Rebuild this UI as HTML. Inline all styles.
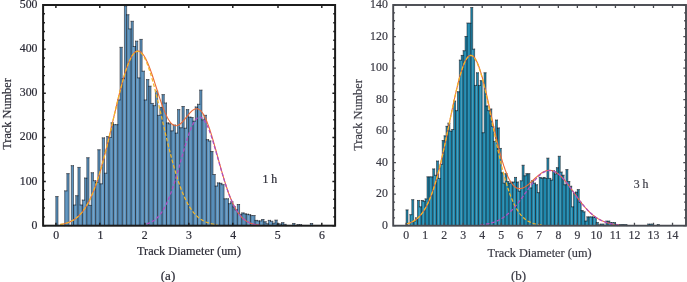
<!DOCTYPE html>
<html><head><meta charset="utf-8"><title>Track diameter histograms</title>
<style>
html,body{margin:0;padding:0;background:#fff;}
body{width:687px;height:282px;overflow:hidden;}
svg{display:block;font-family:"Liberation Serif",serif;}
</style></head><body>
<svg width="687" height="282" viewBox="0 0 687 282">
<rect width="687" height="282" fill="#ffffff"/>
<g id="plot-a">
<g fill="#5c94c0" stroke="none">
<rect x="55.8" y="196.57" width="2.21" height="29.13"/>
<rect x="64.66" y="190.83" width="2.21" height="34.87"/>
<rect x="66.87" y="173.61" width="2.21" height="52.09"/>
<rect x="71.3" y="165.67" width="2.21" height="60.03"/>
<rect x="73.51" y="204.95" width="2.21" height="20.75"/>
<rect x="75.73" y="195.68" width="2.21" height="30.02"/>
<rect x="77.94" y="167.44" width="2.21" height="58.26"/>
<rect x="80.15" y="204.95" width="2.21" height="20.75"/>
<rect x="82.37" y="200.1" width="2.21" height="25.6"/>
<rect x="84.58" y="178.03" width="2.21" height="47.67"/>
<rect x="86.8" y="157.72" width="2.21" height="67.98"/>
<rect x="89.01" y="205.4" width="2.21" height="20.3"/>
<rect x="91.22" y="172.73" width="2.21" height="52.97"/>
<rect x="93.44" y="180.68" width="2.21" height="45.02"/>
<rect x="95.65" y="182.44" width="2.21" height="43.26"/>
<rect x="97.87" y="149.78" width="2.21" height="75.92"/>
<rect x="100.08" y="183.77" width="2.21" height="41.93"/>
<rect x="102.29" y="137.86" width="2.21" height="87.84"/>
<rect x="104.51" y="173.17" width="2.21" height="52.53"/>
<rect x="106.72" y="136.54" width="2.21" height="89.16"/>
<rect x="108.94" y="137.42" width="2.21" height="88.28"/>
<rect x="111.15" y="122.85" width="2.21" height="102.85"/>
<rect x="113.36" y="124.62" width="2.21" height="101.08"/>
<rect x="115.58" y="124.62" width="2.21" height="101.08"/>
<rect x="117.79" y="99.9" width="2.21" height="125.8"/>
<rect x="120.01" y="47.37" width="2.21" height="178.33"/>
<rect x="122.22" y="78.71" width="2.21" height="146.99"/>
<rect x="124.43" y="5.88" width="2.21" height="219.82"/>
<rect x="126.65" y="14.71" width="2.21" height="210.99"/>
<rect x="128.86" y="28.84" width="2.21" height="196.86"/>
<rect x="131.08" y="21.33" width="2.21" height="204.37"/>
<rect x="133.29" y="46.49" width="2.21" height="179.21"/>
<rect x="135.5" y="41.19" width="2.21" height="184.51"/>
<rect x="137.72" y="77.83" width="2.21" height="147.87"/>
<rect x="139.93" y="39.43" width="2.21" height="186.27"/>
<rect x="142.15" y="71.21" width="2.21" height="154.49"/>
<rect x="144.36" y="99.9" width="2.21" height="125.8"/>
<rect x="146.57" y="79.6" width="2.21" height="146.1"/>
<rect x="148.79" y="86.22" width="2.21" height="139.48"/>
<rect x="151" y="103.43" width="2.21" height="122.27"/>
<rect x="153.22" y="105.64" width="2.21" height="120.06"/>
<rect x="155.43" y="91.07" width="2.21" height="134.63"/>
<rect x="157.64" y="115.35" width="2.21" height="110.35"/>
<rect x="159.86" y="107.4" width="2.21" height="118.3"/>
<rect x="162.07" y="94.6" width="2.21" height="131.1"/>
<rect x="164.29" y="102.99" width="2.21" height="122.71"/>
<rect x="166.5" y="122.85" width="2.21" height="102.85"/>
<rect x="168.71" y="123.74" width="2.21" height="101.96"/>
<rect x="170.93" y="130.8" width="2.21" height="94.9"/>
<rect x="173.14" y="125.06" width="2.21" height="100.64"/>
<rect x="175.36" y="133.01" width="2.21" height="92.69"/>
<rect x="177.57" y="109.61" width="2.21" height="116.09"/>
<rect x="179.78" y="127.71" width="2.21" height="97.99"/>
<rect x="182" y="106.52" width="2.21" height="119.18"/>
<rect x="184.21" y="128.15" width="2.21" height="97.55"/>
<rect x="186.43" y="109.61" width="2.21" height="116.09"/>
<rect x="188.64" y="117.12" width="2.21" height="108.58"/>
<rect x="190.85" y="117.56" width="2.21" height="108.14"/>
<rect x="193.07" y="121.09" width="2.21" height="104.61"/>
<rect x="195.28" y="106.96" width="2.21" height="118.74"/>
<rect x="197.5" y="104.31" width="2.21" height="121.39"/>
<rect x="199.71" y="90.19" width="2.21" height="135.51"/>
<rect x="201.92" y="119.76" width="2.21" height="105.94"/>
<rect x="204.14" y="115.35" width="2.21" height="110.35"/>
<rect x="206.35" y="139.63" width="2.21" height="86.07"/>
<rect x="208.57" y="140.95" width="2.21" height="84.75"/>
<rect x="210.78" y="151.54" width="2.21" height="74.16"/>
<rect x="212.99" y="174.5" width="2.21" height="51.2"/>
<rect x="215.21" y="185.97" width="2.21" height="39.73"/>
<rect x="217.42" y="182.88" width="2.21" height="42.82"/>
<rect x="219.64" y="183.33" width="2.21" height="42.37"/>
<rect x="221.85" y="184.65" width="2.21" height="41.05"/>
<rect x="224.06" y="198.77" width="2.21" height="26.93"/>
<rect x="226.28" y="198.77" width="2.21" height="26.93"/>
<rect x="228.49" y="203.63" width="2.21" height="22.07"/>
<rect x="230.71" y="201.86" width="2.21" height="23.84"/>
<rect x="232.92" y="206.72" width="2.21" height="18.98"/>
<rect x="235.13" y="209.81" width="2.21" height="15.89"/>
<rect x="237.35" y="204.51" width="2.21" height="21.19"/>
<rect x="239.56" y="214.22" width="2.21" height="11.48"/>
<rect x="241.78" y="212.9" width="2.21" height="12.8"/>
<rect x="243.99" y="213.78" width="2.21" height="11.92"/>
<rect x="246.2" y="214.22" width="2.21" height="11.48"/>
<rect x="248.42" y="214.66" width="2.21" height="11.03"/>
<rect x="250.63" y="215.55" width="2.21" height="10.15"/>
<rect x="252.85" y="215.55" width="2.21" height="10.15"/>
<rect x="255.06" y="220.4" width="2.21" height="5.3"/>
<rect x="257.27" y="220.84" width="2.21" height="4.86"/>
<rect x="259.49" y="220.84" width="2.21" height="4.86"/>
<rect x="261.7" y="219.52" width="2.21" height="6.18"/>
<rect x="263.92" y="221.73" width="2.21" height="3.97"/>
<rect x="266.13" y="223.71" width="2.21" height="1.99"/>
<rect x="268.34" y="220.4" width="2.21" height="5.3"/>
<rect x="270.56" y="221.29" width="2.21" height="4.41"/>
<rect x="272.77" y="223.05" width="2.21" height="2.65"/>
<rect x="274.99" y="220.18" width="2.21" height="5.52"/>
<rect x="277.2" y="223.93" width="2.21" height="1.77"/>
<rect x="279.41" y="223.93" width="2.21" height="1.77"/>
<rect x="281.63" y="222.61" width="2.21" height="3.09"/>
<rect x="283.84" y="224.38" width="2.21" height="1.32"/>
<rect x="292.7" y="223.49" width="2.21" height="2.21"/>
<rect x="297.13" y="224.6" width="2.21" height="1.1"/>
<rect x="299.34" y="224.6" width="2.21" height="1.1"/>
<rect x="310.41" y="223.49" width="2.21" height="2.21"/>
</g>
<g fill="none" stroke="#0b0b10">
<path d="M73.51,225.7V204.95 M77.94,225.7V195.68 M82.37,225.7V204.95 M86.8,225.7V178.03 M91.22,225.7V205.4 M95.65,225.7V182.44 M100.08,225.7V183.77 M104.51,225.7V173.17 M108.94,225.7V137.42 M113.36,225.7V124.62 M117.79,225.7V124.62 M122.22,225.7V78.71 M126.65,225.7V14.71 M131.08,225.7V28.84 M135.5,225.7V46.49 M139.93,225.7V77.83 M144.36,225.7V99.9 M148.79,225.7V86.22 M153.22,225.7V105.64 M157.64,225.7V115.35 M162.07,225.7V107.4 M166.5,225.7V122.85 M170.93,225.7V130.8 M175.36,225.7V133.01 M179.78,225.7V127.71 M184.21,225.7V128.15 M188.64,225.7V117.12 M193.07,225.7V121.09 M197.5,225.7V106.96 M201.92,225.7V119.76 M206.35,225.7V139.63 M210.78,225.7V151.54 M215.21,225.7V185.97 M219.64,225.7V183.33 M224.06,225.7V198.77 M228.49,225.7V203.63 M232.92,225.7V206.72 M237.35,225.7V209.81 M241.78,225.7V214.22 M246.2,225.7V214.22 M250.63,225.7V215.55 M255.06,225.7V220.4 M259.49,225.7V220.84 M263.92,225.7V221.73 M268.34,225.7V223.71 M272.77,225.7V223.05 M277.2,225.7V223.93 M281.63,225.7V223.93 M299.34,225.7V224.6" stroke-width="0.75" stroke-opacity="0.9"/>
<path d="M66.87,225.7V190.83 M75.73,225.7V204.95 M80.15,225.7V204.95 M84.58,225.7V200.1 M89.01,225.7V205.4 M93.44,225.7V180.68 M97.87,225.7V182.44 M102.29,225.7V183.77 M106.72,225.7V173.17 M111.15,225.7V137.42 M115.58,225.7V124.62 M120.01,225.7V99.9 M124.43,225.7V78.71 M128.86,225.7V28.84 M133.29,225.7V46.49 M137.72,225.7V77.83 M142.15,225.7V71.21 M146.57,225.7V99.9 M151,225.7V103.43 M155.43,225.7V105.64 M159.86,225.7V115.35 M164.29,225.7V102.99 M168.71,225.7V123.74 M173.14,225.7V130.8 M177.57,225.7V133.01 M182,225.7V127.71 M186.43,225.7V128.15 M190.85,225.7V117.56 M195.28,225.7V121.09 M199.71,225.7V104.31 M204.14,225.7V119.76 M208.57,225.7V140.95 M212.99,225.7V174.5 M217.42,225.7V185.97 M221.85,225.7V184.65 M226.28,225.7V198.77 M230.71,225.7V203.63 M235.13,225.7V209.81 M239.56,225.7V214.22 M243.99,225.7V213.78 M248.42,225.7V214.66 M252.85,225.7V215.55 M257.27,225.7V220.84 M261.7,225.7V220.84 M266.13,225.7V223.71 M270.56,225.7V221.29 M274.99,225.7V223.05 M279.41,225.7V223.93 M283.84,225.7V224.38" stroke-width="0.15" stroke-opacity="0.5"/>
<path d="M55.8,225.7V196.57 M55.8,196.57h2.21 M58.01,225.7V196.57 M64.66,225.7V190.83 M64.66,190.83h2.21 M66.87,190.83V173.61 M66.87,173.61h2.21 M69.08,225.7V173.61 M71.3,225.7V165.67 M71.3,165.67h2.21 M73.51,204.95V165.67 M73.51,204.95h2.21 M75.73,204.95V195.68 M75.73,195.68h2.21 M77.94,195.68V167.44 M77.94,167.44h2.21 M80.15,204.95V167.44 M80.15,204.95h2.21 M82.37,204.95V200.1 M82.37,200.1h2.21 M84.58,200.1V178.03 M84.58,178.03h2.21 M86.8,178.03V157.72 M86.8,157.72h2.21 M89.01,205.4V157.72 M89.01,205.4h2.21 M91.22,205.4V172.73 M91.22,172.73h2.21 M93.44,180.68V172.73 M93.44,180.68h2.21 M95.65,182.44V180.68 M95.65,182.44h2.21 M97.87,182.44V149.78 M97.87,149.78h2.21 M100.08,183.77V149.78 M100.08,183.77h2.21 M102.29,183.77V137.86 M102.29,137.86h2.21 M104.51,173.17V137.86 M104.51,173.17h2.21 M106.72,173.17V136.54 M106.72,136.54h2.21 M108.94,137.42V136.54 M108.94,137.42h2.21 M111.15,137.42V122.85 M111.15,122.85h2.21 M113.36,124.62V122.85 M113.36,124.62h2.21 M115.58,124.62h2.21 M117.79,124.62V99.9 M117.79,99.9h2.21 M120.01,99.9V47.37 M120.01,47.37h2.21 M122.22,78.71V47.37 M122.22,78.71h2.21 M124.43,78.71V5.88 M124.43,5.88h2.21 M126.65,14.71V5.88 M126.65,14.71h2.21 M128.86,28.84V14.71 M128.86,28.84h2.21 M131.08,28.84V21.33 M131.08,21.33h2.21 M133.29,46.49V21.33 M133.29,46.49h2.21 M135.5,46.49V41.19 M135.5,41.19h2.21 M137.72,77.83V41.19 M137.72,77.83h2.21 M139.93,77.83V39.43 M139.93,39.43h2.21 M142.15,71.21V39.43 M142.15,71.21h2.21 M144.36,99.9V71.21 M144.36,99.9h2.21 M146.57,99.9V79.6 M146.57,79.6h2.21 M148.79,86.22V79.6 M148.79,86.22h2.21 M151,103.43V86.22 M151,103.43h2.21 M153.22,105.64V103.43 M153.22,105.64h2.21 M155.43,105.64V91.07 M155.43,91.07h2.21 M157.64,115.35V91.07 M157.64,115.35h2.21 M159.86,115.35V107.4 M159.86,107.4h2.21 M162.07,107.4V94.6 M162.07,94.6h2.21 M164.29,102.99V94.6 M164.29,102.99h2.21 M166.5,122.85V102.99 M166.5,122.85h2.21 M168.71,123.74V122.85 M168.71,123.74h2.21 M170.93,130.8V123.74 M170.93,130.8h2.21 M173.14,130.8V125.06 M173.14,125.06h2.21 M175.36,133.01V125.06 M175.36,133.01h2.21 M177.57,133.01V109.61 M177.57,109.61h2.21 M179.78,127.71V109.61 M179.78,127.71h2.21 M182,127.71V106.52 M182,106.52h2.21 M184.21,128.15V106.52 M184.21,128.15h2.21 M186.43,128.15V109.61 M186.43,109.61h2.21 M188.64,117.12V109.61 M188.64,117.12h2.21 M190.85,117.56V117.12 M190.85,117.56h2.21 M193.07,121.09V117.56 M193.07,121.09h2.21 M195.28,121.09V106.96 M195.28,106.96h2.21 M197.5,106.96V104.31 M197.5,104.31h2.21 M199.71,104.31V90.19 M199.71,90.19h2.21 M201.92,119.76V90.19 M201.92,119.76h2.21 M204.14,119.76V115.35 M204.14,115.35h2.21 M206.35,139.63V115.35 M206.35,139.63h2.21 M208.57,140.95V139.63 M208.57,140.95h2.21 M210.78,151.54V140.95 M210.78,151.54h2.21 M212.99,174.5V151.54 M212.99,174.5h2.21 M215.21,185.97V174.5 M215.21,185.97h2.21 M217.42,185.97V182.88 M217.42,182.88h2.21 M219.64,183.33V182.88 M219.64,183.33h2.21 M221.85,184.65V183.33 M221.85,184.65h2.21 M224.06,198.77V184.65 M224.06,198.77h2.21 M226.28,198.77h2.21 M228.49,203.63V198.77 M228.49,203.63h2.21 M230.71,203.63V201.86 M230.71,201.86h2.21 M232.92,206.72V201.86 M232.92,206.72h2.21 M235.13,209.81V206.72 M235.13,209.81h2.21 M237.35,209.81V204.51 M237.35,204.51h2.21 M239.56,214.22V204.51 M239.56,214.22h2.21 M241.78,214.22V212.9 M241.78,212.9h2.21 M243.99,213.78V212.9 M243.99,213.78h2.21 M246.2,214.22V213.78 M246.2,214.22h2.21 M248.42,214.66V214.22 M248.42,214.66h2.21 M250.63,215.55V214.66 M250.63,215.55h2.21 M252.85,215.55h2.21 M255.06,220.4V215.55 M255.06,220.4h2.21 M257.27,220.84V220.4 M257.27,220.84h2.21 M259.49,220.84h2.21 M261.7,220.84V219.52 M261.7,219.52h2.21 M263.92,221.73V219.52 M263.92,221.73h2.21 M266.13,223.71V221.73 M266.13,223.71h2.21 M268.34,223.71V220.4 M268.34,220.4h2.21 M270.56,221.29V220.4 M270.56,221.29h2.21 M272.77,223.05V221.29 M272.77,223.05h2.21 M274.99,223.05V220.18 M274.99,220.18h2.21 M277.2,223.93V220.18 M277.2,223.93h2.21 M279.41,223.93h2.21 M281.63,223.93V222.61 M281.63,222.61h2.21 M283.84,224.38V222.61 M283.84,224.38h2.21 M286.06,225.7V224.38 M292.7,225.7V223.49 M292.7,223.49h2.21 M294.91,225.7V223.49 M297.13,225.7V224.6 M297.13,224.6h2.21 M299.34,224.6h2.21 M301.55,225.7V224.6 M310.41,225.7V223.49 M310.41,223.49h2.21 M312.62,225.7V223.49" stroke-width="0.55" stroke-opacity="0.9" stroke-linecap="square"/>
</g>
<g fill="none" stroke-linecap="butt" stroke-linejoin="round">
<path d="M60.23,224.49 L61.47,224.28 L62.72,224.04 L63.96,223.77 L65.21,223.46 L66.45,223.1 L67.7,222.69 L68.95,222.23 L70.19,221.7 L71.44,221.11 L72.68,220.44 L73.93,219.7 L75.17,218.86 L76.42,217.93 L77.66,216.9 L78.91,215.75 L80.15,214.48 L81.4,213.08 L82.64,211.55 L83.89,209.86 L85.14,208.03 L86.38,206.03 L87.63,203.86 L88.87,201.51 L90.12,198.99 L91.36,196.27 L92.61,193.36 L93.85,190.25 L95.1,186.94 L96.34,183.44 L97.59,179.73 L98.83,175.83 L100.08,171.74 L101.33,167.46 L102.57,163 L103.82,158.37 L105.06,153.59 L106.31,148.67 L107.55,143.62 L108.8,138.46 L110.04,133.22 L111.29,127.91 L112.53,122.57 L113.78,117.21 L115.02,111.86 L116.27,106.56 L117.52,101.33 L118.76,96.21 L120.01,91.22 L121.25,86.39 L122.5,81.76 L123.74,77.35 L124.99,73.2 L126.23,69.34 L127.48,65.79 L128.72,62.57 L129.97,59.71 L131.21,57.22 L132.46,55.14 L133.71,53.46 L134.95,52.2 L136.2,51.36 L137.44,50.96 L138.69,50.98 L139.93,51.43 L141.18,52.3 L142.42,53.57 L143.67,55.22 L144.91,57.25 L146.16,59.61 L147.4,62.3 L148.65,65.26 L149.89,68.48 L151.14,71.92 L152.39,75.53 L153.63,79.28 L154.88,83.12 L156.12,87.01 L157.37,90.92 L158.61,94.78 L159.86,98.57 L161.1,102.24 L162.35,105.75 L163.59,109.07 L164.84,112.15 L166.08,114.96 L167.33,117.49 L168.58,119.7 L169.82,121.57 L171.07,123.1 L172.31,124.28 L173.56,125.1 L174.8,125.57 L176.05,125.7 L177.29,125.51 L178.54,125.01 L179.78,124.25 L181.03,123.24 L182.27,122.03 L183.52,120.66 L184.77,119.18 L186.01,117.63 L187.26,116.06 L188.5,114.53 L189.75,113.09 L190.99,111.78 L192.24,110.65 L193.48,109.75 L194.73,109.12 L195.97,108.78 L197.22,108.78 L198.46,109.14 L199.71,109.88 L200.96,111 L202.2,112.51 L203.45,114.41 L204.69,116.69 L205.94,119.33 L207.18,122.33 L208.43,125.63 L209.67,129.23 L210.92,133.08 L212.16,137.15 L213.41,141.4 L214.65,145.78 L215.9,150.26 L217.15,154.79 L218.39,159.34 L219.64,163.86 L220.88,168.33 L222.13,172.71 L223.37,176.97 L224.62,181.08 L225.86,185.02 L227.11,188.78 L228.35,192.34 L229.6,195.69 L230.84,198.83 L232.09,201.74 L233.34,204.43 L234.58,206.9 L235.83,209.16 L237.07,211.22 L238.32,213.07 L239.56,214.74 L240.81,216.23 L242.05,217.55 L243.3,218.72 L244.54,219.75 L245.79,220.65 L247.03,221.43 L248.28,222.11 L249.52,222.69 L250.77,223.19 L252.02,223.62 L253.26,223.98 L254.51,224.28 L255.75,224.54 L257,224.75 L258.24,224.93 L259.49,225.08" stroke="#ec6a36" stroke-width="1.1"/>
<path d="M60.23,224.49 L61.21,224.33 L62.19,224.15 L63.18,223.95 L64.16,223.72 L65.14,223.47 L66.12,223.2 L67.11,222.89 L68.09,222.55 L69.07,222.18 L70.05,221.76 L71.04,221.31 L72.02,220.81 L73,220.26 L73.98,219.66 L74.96,219.01 L75.95,218.29 L76.93,217.52 L77.91,216.68 L78.89,215.76 L79.88,214.77 L80.86,213.7 L81.84,212.55 L82.82,211.31 L83.81,209.98 L84.79,208.55 L85.77,207.03 L86.75,205.4 L87.74,203.66 L88.72,201.81 L89.7,199.85 L90.68,197.77 L91.67,195.57 L92.65,193.26 L93.63,190.82 L94.61,188.25 L95.6,185.57 L96.58,182.75 L97.56,179.82 L98.54,176.76 L99.53,173.58 L100.51,170.28 L101.49,166.87 L102.47,163.35 L103.46,159.73 L104.44,156 L105.42,152.18 L106.4,148.28 L107.39,144.3 L108.37,140.25 L109.35,136.14 L110.33,131.99 L111.32,127.8 L112.3,123.58 L113.28,119.35 L114.26,115.13 L115.25,110.92 L116.23,106.74 L117.21,102.61 L118.19,98.54 L119.18,94.54 L120.16,90.63 L121.14,86.83 L122.12,83.14 L123.11,79.6 L124.09,76.2 L125.07,72.97 L126.05,69.92 L127.04,67.06 L128.02,64.41 L129,61.98 L129.98,59.77 L130.97,57.81 L131.95,56.09 L132.93,54.62 L133.91,53.42 L134.9,52.49 L135.88,51.84 L136.86,51.45 L137.84,51.35 L138.82,51.52 L139.81,51.98 L140.79,52.7 L141.77,53.7 L142.75,54.97 L143.74,56.5 L144.72,58.28 L145.7,60.31 L146.68,62.57 L147.67,65.07 L148.65,67.77 L149.63,70.68 L150.61,73.77 L151.6,77.05 L152.58,80.48 L153.56,84.06 L154.54,87.78 L155.53,91.61 L156.51,95.54 L157.49,99.56 L158.47,103.65 L159.46,107.8 L160.44,111.99 L161.42,116.2 L162.4,120.43 L163.39,124.65 L164.37,128.86 L165.35,133.04 L166.33,137.19 L167.32,141.28 L168.3,145.31 L169.28,149.28 L170.26,153.16 L171.25,156.95 L172.23,160.65 L173.21,164.25 L174.19,167.75 L175.18,171.13 L176.16,174.4 L177.14,177.55 L178.12,180.57 L179.11,183.48 L180.09,186.26 L181.07,188.91 L182.05,191.45 L183.04,193.86 L184.02,196.14 L185,198.31 L185.98,200.36 L186.97,202.29 L187.95,204.11 L188.93,205.82 L189.91,207.42 L190.9,208.92 L191.88,210.33 L192.86,211.63 L193.84,212.85 L194.83,213.98 L195.81,215.03 L196.79,216 L197.77,216.9 L198.76,217.72 L199.74,218.48 L200.72,219.18 L201.7,219.82 L202.69,220.4 L203.67,220.94 L204.65,221.43 L205.63,221.87 L206.61,222.27 L207.6,222.64 L208.58,222.97 L209.56,223.27 L210.54,223.54 L211.53,223.78 L212.51,224 L213.49,224.2 L214.47,224.37 L215.46,224.53 L216.44,224.67 L217.42,224.79" stroke="#f3b62a" stroke-width="1.25" stroke-dasharray="3.6 2"/>
<path d="M146.57,223.87 L147.28,223.66 L147.99,223.43 L148.69,223.18 L149.4,222.9 L150.1,222.6 L150.81,222.28 L151.51,221.92 L152.22,221.53 L152.93,221.11 L153.63,220.66 L154.34,220.16 L155.04,219.63 L155.75,219.06 L156.45,218.44 L157.16,217.77 L157.87,217.06 L158.57,216.3 L159.28,215.48 L159.98,214.61 L160.69,213.68 L161.39,212.7 L162.1,211.65 L162.81,210.54 L163.51,209.37 L164.22,208.13 L164.92,206.82 L165.63,205.45 L166.33,204 L167.04,202.49 L167.75,200.91 L168.45,199.26 L169.16,197.54 L169.86,195.75 L170.57,193.89 L171.27,191.96 L171.98,189.97 L172.69,187.92 L173.39,185.81 L174.1,183.64 L174.8,181.41 L175.51,179.14 L176.21,176.82 L176.92,174.45 L177.63,172.05 L178.33,169.62 L179.04,167.16 L179.74,164.68 L180.45,162.19 L181.15,159.69 L181.86,157.2 L182.57,154.71 L183.27,152.23 L183.98,149.78 L184.68,147.36 L185.39,144.98 L186.09,142.64 L186.8,140.37 L187.51,138.15 L188.21,136.01 L188.92,133.95 L189.62,131.97 L190.33,130.09 L191.03,128.31 L191.74,126.64 L192.45,125.09 L193.15,123.66 L193.86,122.36 L194.56,121.2 L195.27,120.17 L195.97,119.28 L196.68,118.55 L197.39,117.96 L198.09,117.53 L198.8,117.25 L199.5,117.12 L200.21,117.15 L200.91,117.34 L201.62,117.69 L202.33,118.18 L203.03,118.83 L203.74,119.63 L204.44,120.57 L205.15,121.66 L205.85,122.88 L206.56,124.24 L207.27,125.72 L207.97,127.32 L208.68,129.03 L209.38,130.85 L210.09,132.77 L210.79,134.78 L211.5,136.88 L212.21,139.05 L212.91,141.3 L213.62,143.6 L214.32,145.95 L215.03,148.35 L215.73,150.79 L216.44,153.25 L217.15,155.73 L217.85,158.22 L218.56,160.72 L219.26,163.22 L219.97,165.71 L220.67,168.18 L221.38,170.62 L222.09,173.04 L222.79,175.43 L223.5,177.78 L224.2,180.08 L224.91,182.34 L225.61,184.54 L226.32,186.69 L227.03,188.77 L227.73,190.8 L228.44,192.76 L229.14,194.66 L229.85,196.49 L230.55,198.25 L231.26,199.95 L231.97,201.57 L232.67,203.12 L233.38,204.61 L234.08,206.02 L234.79,207.37 L235.49,208.65 L236.2,209.86 L236.91,211 L237.61,212.09 L238.32,213.11 L239.02,214.07 L239.73,214.98 L240.43,215.82 L241.14,216.62 L241.85,217.36 L242.55,218.05 L243.26,218.7 L243.96,219.3 L244.67,219.85 L245.37,220.37 L246.08,220.85 L246.79,221.29 L247.49,221.7 L248.2,222.07 L248.9,222.42 L249.61,222.73 L250.31,223.02 L251.02,223.29 L251.73,223.53 L252.43,223.75 L253.14,223.95 L253.84,224.13 L254.55,224.29 L255.25,224.44 L255.96,224.58 L256.67,224.7 L257.37,224.81 L258.08,224.91 L258.78,225 L259.49,225.08" stroke="#b04fc0" stroke-width="1.25" stroke-dasharray="3.6 2"/>
</g>
<g stroke="#1c1c1c" fill="none">
<rect x="43.1" y="5" width="292" height="220.7" stroke-width="2.0"/>
<path d="M55.9,225.7 v-3.05 M55.9,5 v3.05 M99.8,225.7 v-3.05 M99.8,5 v3.05 M144.9,225.7 v-3.05 M144.9,5 v3.05 M188.8,225.7 v-3.05 M188.8,5 v3.05 M232.8,225.7 v-3.05 M232.8,5 v3.05 M278,225.7 v-3.05 M278,5 v3.05 M321.8,225.7 v-3.05 M321.8,5 v3.05 M43.1,225.7 h2.7 M335.1,225.7 h-2.7 M43.1,216.87 h1.85 M335.1,216.87 h-1.85 M43.1,208.04 h1.85 M335.1,208.04 h-1.85 M43.1,199.22 h1.85 M335.1,199.22 h-1.85 M43.1,190.39 h1.85 M335.1,190.39 h-1.85 M43.1,181.56 h2.7 M335.1,181.56 h-2.7 M43.1,172.73 h1.85 M335.1,172.73 h-1.85 M43.1,163.9 h1.85 M335.1,163.9 h-1.85 M43.1,155.08 h1.85 M335.1,155.08 h-1.85 M43.1,146.25 h1.85 M335.1,146.25 h-1.85 M43.1,137.42 h2.7 M335.1,137.42 h-2.7 M43.1,128.59 h1.85 M335.1,128.59 h-1.85 M43.1,119.76 h1.85 M335.1,119.76 h-1.85 M43.1,110.94 h1.85 M335.1,110.94 h-1.85 M43.1,102.11 h1.85 M335.1,102.11 h-1.85 M43.1,93.28 h2.7 M335.1,93.28 h-2.7 M43.1,84.45 h1.85 M335.1,84.45 h-1.85 M43.1,75.62 h1.85 M335.1,75.62 h-1.85 M43.1,66.8 h1.85 M335.1,66.8 h-1.85 M43.1,57.97 h1.85 M335.1,57.97 h-1.85 M43.1,49.14 h2.7 M335.1,49.14 h-2.7 M43.1,40.31 h1.85 M335.1,40.31 h-1.85 M43.1,31.48 h1.85 M335.1,31.48 h-1.85 M43.1,22.66 h1.85 M335.1,22.66 h-1.85 M43.1,13.83 h1.85 M335.1,13.83 h-1.85 M43.1,5 h2.7 M335.1,5 h-2.7" stroke-width="1.45"/>
</g>
<g fill="#2b2b36" stroke="#2b2b36" stroke-width="0.2" font-size="11.8">
<text x="56.2" y="239" text-anchor="middle">0</text>
<text x="100.48" y="239" text-anchor="middle">1</text>
<text x="144.76" y="239" text-anchor="middle">2</text>
<text x="189.04" y="239" text-anchor="middle">3</text>
<text x="233.32" y="239" text-anchor="middle">4</text>
<text x="277.6" y="239" text-anchor="middle">5</text>
<text x="321.88" y="239" text-anchor="middle">6</text>
<text x="37.5" y="228.7" text-anchor="end">0</text>
<text x="37.5" y="184.56" text-anchor="end">100</text>
<text x="37.5" y="140.42" text-anchor="end">200</text>
<text x="37.5" y="96.28" text-anchor="end">300</text>
<text x="37.5" y="52.14" text-anchor="end">400</text>
<text x="37.5" y="8" text-anchor="end">500</text>
</g>
<g fill="#2b2b36" stroke="#2b2b36" stroke-width="0.2" font-size="13">
<text x="189" y="255.3" text-anchor="middle" textLength="104" lengthAdjust="spacingAndGlyphs">Track Diameter (um)</text>
<text transform="translate(11.3,114) rotate(-90)" text-anchor="middle" textLength="71.5" lengthAdjust="spacingAndGlyphs">Track Number</text>
<text x="168" y="279.5" text-anchor="middle">(a)</text>
<text x="262.5" y="182.5" font-size="11.8">1 h</text>
</g>
</g>
<g id="plot-b">
<g fill="#1f8db4" stroke="none">
<rect x="406.1" y="209.94" width="1.9" height="15.76"/>
<rect x="409.91" y="214.67" width="1.9" height="11.03"/>
<rect x="411.81" y="199.69" width="1.9" height="26.01"/>
<rect x="413.71" y="220.97" width="1.9" height="4.73"/>
<rect x="415.62" y="217.82" width="1.9" height="7.88"/>
<rect x="417.52" y="200.48" width="1.9" height="25.22"/>
<rect x="419.42" y="206.78" width="1.9" height="18.92"/>
<rect x="421.32" y="200.48" width="1.9" height="25.22"/>
<rect x="423.23" y="201.27" width="1.9" height="24.43"/>
<rect x="425.13" y="198.9" width="1.9" height="26.8"/>
<rect x="427.03" y="176.83" width="1.9" height="48.87"/>
<rect x="428.94" y="176.83" width="1.9" height="48.87"/>
<rect x="430.84" y="176.83" width="1.9" height="48.87"/>
<rect x="432.74" y="168.95" width="1.9" height="56.75"/>
<rect x="434.65" y="175.26" width="1.9" height="50.44"/>
<rect x="436.55" y="161.07" width="1.9" height="64.63"/>
<rect x="438.45" y="178.41" width="1.9" height="47.29"/>
<rect x="440.35" y="164.22" width="1.9" height="61.48"/>
<rect x="442.26" y="140.57" width="1.9" height="85.13"/>
<rect x="444.16" y="135.85" width="1.9" height="89.85"/>
<rect x="446.06" y="126.39" width="1.9" height="99.31"/>
<rect x="447.97" y="123.23" width="1.9" height="102.47"/>
<rect x="449.87" y="131.12" width="1.9" height="94.58"/>
<rect x="451.77" y="129.54" width="1.9" height="96.16"/>
<rect x="453.68" y="101.16" width="1.9" height="124.54"/>
<rect x="455.58" y="110.62" width="1.9" height="115.08"/>
<rect x="457.48" y="91.71" width="1.9" height="133.99"/>
<rect x="459.38" y="60.18" width="1.9" height="165.52"/>
<rect x="461.29" y="55.45" width="1.9" height="170.25"/>
<rect x="463.19" y="50.72" width="1.9" height="174.98"/>
<rect x="465.09" y="36.53" width="1.9" height="189.17"/>
<rect x="467" y="23.13" width="1.9" height="202.57"/>
<rect x="468.9" y="23.13" width="1.9" height="202.57"/>
<rect x="470.8" y="7.53" width="1.9" height="218.17"/>
<rect x="472.71" y="49.14" width="1.9" height="176.56"/>
<rect x="474.61" y="85.4" width="1.9" height="140.3"/>
<rect x="476.51" y="72.79" width="1.9" height="152.91"/>
<rect x="478.41" y="85.4" width="1.9" height="140.3"/>
<rect x="480.32" y="80.67" width="1.9" height="145.03"/>
<rect x="482.22" y="132.69" width="1.9" height="93.01"/>
<rect x="484.12" y="72.79" width="1.9" height="152.91"/>
<rect x="486.03" y="105.89" width="1.9" height="119.81"/>
<rect x="487.93" y="110.62" width="1.9" height="115.08"/>
<rect x="489.83" y="109.05" width="1.9" height="116.65"/>
<rect x="491.74" y="126.39" width="1.9" height="99.31"/>
<rect x="493.64" y="141.36" width="1.9" height="84.34"/>
<rect x="495.54" y="120.08" width="1.9" height="105.62"/>
<rect x="497.44" y="127.96" width="1.9" height="97.74"/>
<rect x="499.35" y="148.46" width="1.9" height="77.24"/>
<rect x="501.25" y="172.73" width="1.9" height="52.97"/>
<rect x="503.15" y="183.14" width="1.9" height="42.56"/>
<rect x="505.06" y="173.68" width="1.9" height="52.02"/>
<rect x="506.96" y="181.56" width="1.9" height="44.14"/>
<rect x="508.86" y="183.14" width="1.9" height="42.56"/>
<rect x="510.77" y="182.03" width="1.9" height="43.67"/>
<rect x="512.67" y="182.03" width="1.9" height="43.67"/>
<rect x="514.57" y="177.46" width="1.9" height="48.24"/>
<rect x="516.47" y="182.03" width="1.9" height="43.67"/>
<rect x="518.38" y="191.02" width="1.9" height="34.68"/>
<rect x="520.28" y="180.77" width="1.9" height="44.93"/>
<rect x="522.18" y="165.32" width="1.9" height="60.38"/>
<rect x="524.09" y="175.73" width="1.9" height="49.97"/>
<rect x="525.99" y="173.68" width="1.9" height="52.02"/>
<rect x="527.89" y="173.68" width="1.9" height="52.02"/>
<rect x="529.8" y="187.87" width="1.9" height="37.83"/>
<rect x="531.7" y="180.77" width="1.9" height="44.93"/>
<rect x="533.6" y="183.14" width="1.9" height="42.56"/>
<rect x="535.5" y="184.71" width="1.9" height="40.99"/>
<rect x="537.41" y="192.6" width="1.9" height="33.1"/>
<rect x="539.31" y="177.46" width="1.9" height="48.24"/>
<rect x="541.21" y="178.41" width="1.9" height="47.29"/>
<rect x="543.12" y="177.46" width="1.9" height="48.24"/>
<rect x="545.02" y="178.41" width="1.9" height="47.29"/>
<rect x="546.92" y="158.23" width="1.9" height="67.47"/>
<rect x="548.83" y="178.41" width="1.9" height="47.29"/>
<rect x="550.73" y="179.98" width="1.9" height="45.72"/>
<rect x="552.63" y="170.84" width="1.9" height="54.86"/>
<rect x="554.53" y="173.84" width="1.9" height="51.86"/>
<rect x="556.44" y="167.69" width="1.9" height="58.01"/>
<rect x="558.34" y="156.34" width="1.9" height="69.36"/>
<rect x="560.24" y="172.1" width="1.9" height="53.6"/>
<rect x="562.15" y="175.26" width="1.9" height="50.44"/>
<rect x="564.05" y="184.71" width="1.9" height="40.99"/>
<rect x="565.95" y="169.58" width="1.9" height="56.12"/>
<rect x="567.86" y="181.56" width="1.9" height="44.14"/>
<rect x="569.76" y="186.29" width="1.9" height="39.41"/>
<rect x="571.66" y="206.78" width="1.9" height="18.92"/>
<rect x="573.56" y="193.23" width="1.9" height="32.47"/>
<rect x="575.47" y="192.12" width="1.9" height="33.58"/>
<rect x="577.37" y="189.6" width="1.9" height="36.1"/>
<rect x="579.27" y="202.37" width="1.9" height="23.33"/>
<rect x="581.18" y="210.57" width="1.9" height="15.13"/>
<rect x="583.08" y="211.83" width="1.9" height="13.87"/>
<rect x="584.98" y="220.97" width="1.9" height="4.73"/>
<rect x="586.88" y="216.87" width="1.9" height="8.83"/>
<rect x="588.79" y="216.87" width="1.9" height="8.83"/>
<rect x="590.69" y="216.87" width="1.9" height="8.83"/>
<rect x="592.59" y="216.87" width="1.9" height="8.83"/>
<rect x="594.5" y="217.5" width="1.9" height="8.2"/>
<rect x="596.4" y="222.55" width="1.9" height="3.15"/>
<rect x="598.3" y="224.91" width="1.9" height="0.79"/>
<rect x="600.21" y="224.12" width="1.9" height="1.58"/>
<rect x="602.11" y="224.12" width="1.9" height="1.58"/>
<rect x="605.91" y="221.13" width="1.9" height="4.57"/>
<rect x="607.82" y="221.13" width="1.9" height="4.57"/>
<rect x="609.72" y="222.55" width="1.9" height="3.15"/>
<rect x="611.62" y="222.55" width="1.9" height="3.15"/>
<rect x="613.53" y="222.55" width="1.9" height="3.15"/>
<rect x="615.43" y="224.91" width="1.9" height="0.79"/>
<rect x="619.24" y="224.6" width="1.9" height="1.1"/>
<rect x="621.14" y="224.6" width="1.9" height="1.1"/>
<rect x="623.04" y="224.6" width="1.9" height="1.1"/>
<rect x="624.95" y="224.6" width="1.9" height="1.1"/>
<rect x="647.78" y="224.12" width="1.9" height="1.58"/>
<rect x="649.68" y="224.12" width="1.9" height="1.58"/>
<rect x="651.59" y="224.12" width="1.9" height="1.58"/>
<rect x="657.3" y="224.6" width="1.9" height="1.1"/>
</g>
<g fill="none" stroke="#0b0b10">
<path d="M413.71,225.7V220.97 M417.52,225.7V217.82 M421.32,225.7V206.78 M425.13,225.7V201.27 M428.94,225.7V176.83 M432.74,225.7V176.83 M436.55,225.7V175.26 M440.35,225.7V178.41 M444.16,225.7V140.57 M447.97,225.7V126.39 M451.77,225.7V131.12 M455.58,225.7V110.62 M459.38,225.7V91.71 M463.19,225.7V55.45 M467,225.7V36.53 M470.8,225.7V23.13 M474.61,225.7V85.4 M478.41,225.7V85.4 M482.22,225.7V132.69 M486.03,225.7V105.89 M489.83,225.7V110.62 M493.64,225.7V141.36 M497.44,225.7V127.96 M501.25,225.7V172.73 M505.06,225.7V183.14 M508.86,225.7V183.14 M512.67,225.7V182.03 M516.47,225.7V182.03 M520.28,225.7V191.02 M524.09,225.7V175.73 M527.89,225.7V173.68 M531.7,225.7V187.87 M535.5,225.7V184.71 M539.31,225.7V192.6 M543.12,225.7V178.41 M546.92,225.7V178.41 M550.73,225.7V179.98 M554.53,225.7V173.84 M558.34,225.7V167.69 M562.15,225.7V175.26 M565.95,225.7V184.71 M569.76,225.7V186.29 M573.56,225.7V206.78 M577.37,225.7V192.12 M581.18,225.7V210.57 M584.98,225.7V220.97 M588.79,225.7V216.87 M592.59,225.7V216.87 M596.4,225.7V222.55 M600.21,225.7V224.91 M607.82,225.7V221.13 M611.62,225.7V222.55 M615.43,225.7V224.91 M623.04,225.7V224.6 M649.68,225.7V224.12" stroke-width="0.75" stroke-opacity="0.9"/>
<path d="M411.81,225.7V214.67 M415.62,225.7V220.97 M419.42,225.7V206.78 M423.23,225.7V201.27 M427.03,225.7V198.9 M430.84,225.7V176.83 M434.65,225.7V175.26 M438.45,225.7V178.41 M442.26,225.7V164.22 M446.06,225.7V135.85 M449.87,225.7V131.12 M453.68,225.7V129.54 M457.48,225.7V110.62 M461.29,225.7V60.18 M465.09,225.7V50.72 M468.9,225.7V23.13 M472.71,225.7V49.14 M476.51,225.7V85.4 M480.32,225.7V85.4 M484.12,225.7V132.69 M487.93,225.7V110.62 M491.74,225.7V126.39 M495.54,225.7V141.36 M499.35,225.7V148.46 M503.15,225.7V183.14 M506.96,225.7V181.56 M510.77,225.7V183.14 M514.57,225.7V182.03 M518.38,225.7V191.02 M522.18,225.7V180.77 M525.99,225.7V175.73 M529.8,225.7V187.87 M533.6,225.7V183.14 M537.41,225.7V192.6 M541.21,225.7V178.41 M545.02,225.7V178.41 M548.83,225.7V178.41 M552.63,225.7V179.98 M556.44,225.7V173.84 M560.24,225.7V172.1 M564.05,225.7V184.71 M567.86,225.7V181.56 M571.66,225.7V206.78 M575.47,225.7V193.23 M579.27,225.7V202.37 M583.08,225.7V211.83 M586.88,225.7V220.97 M590.69,225.7V216.87 M594.5,225.7V217.5 M598.3,225.7V224.91 M602.11,225.7V224.12 M609.72,225.7V222.55 M613.53,225.7V222.55 M621.14,225.7V224.6 M624.95,225.7V224.6 M651.59,225.7V224.12" stroke-width="0.15" stroke-opacity="0.5"/>
<path d="M406.1,225.7V209.94 M406.1,209.94h1.9 M408,225.7V209.94 M409.91,225.7V214.67 M409.91,214.67h1.9 M411.81,214.67V199.69 M411.81,199.69h1.9 M413.71,220.97V199.69 M413.71,220.97h1.9 M415.62,220.97V217.82 M415.62,217.82h1.9 M417.52,217.82V200.48 M417.52,200.48h1.9 M419.42,206.78V200.48 M419.42,206.78h1.9 M421.32,206.78V200.48 M421.32,200.48h1.9 M423.23,201.27V200.48 M423.23,201.27h1.9 M425.13,201.27V198.9 M425.13,198.9h1.9 M427.03,198.9V176.83 M427.03,176.83h1.9 M428.94,176.83h1.9 M430.84,176.83h1.9 M432.74,176.83V168.95 M432.74,168.95h1.9 M434.65,175.26V168.95 M434.65,175.26h1.9 M436.55,175.26V161.07 M436.55,161.07h1.9 M438.45,178.41V161.07 M438.45,178.41h1.9 M440.35,178.41V164.22 M440.35,164.22h1.9 M442.26,164.22V140.57 M442.26,140.57h1.9 M444.16,140.57V135.85 M444.16,135.85h1.9 M446.06,135.85V126.39 M446.06,126.39h1.9 M447.97,126.39V123.23 M447.97,123.23h1.9 M449.87,131.12V123.23 M449.87,131.12h1.9 M451.77,131.12V129.54 M451.77,129.54h1.9 M453.68,129.54V101.16 M453.68,101.16h1.9 M455.58,110.62V101.16 M455.58,110.62h1.9 M457.48,110.62V91.71 M457.48,91.71h1.9 M459.38,91.71V60.18 M459.38,60.18h1.9 M461.29,60.18V55.45 M461.29,55.45h1.9 M463.19,55.45V50.72 M463.19,50.72h1.9 M465.09,50.72V36.53 M465.09,36.53h1.9 M467,36.53V23.13 M467,23.13h1.9 M468.9,23.13h1.9 M470.8,23.13V7.53 M470.8,7.53h1.9 M472.71,49.14V7.53 M472.71,49.14h1.9 M474.61,85.4V49.14 M474.61,85.4h1.9 M476.51,85.4V72.79 M476.51,72.79h1.9 M478.41,85.4V72.79 M478.41,85.4h1.9 M480.32,85.4V80.67 M480.32,80.67h1.9 M482.22,132.69V80.67 M482.22,132.69h1.9 M484.12,132.69V72.79 M484.12,72.79h1.9 M486.03,105.89V72.79 M486.03,105.89h1.9 M487.93,110.62V105.89 M487.93,110.62h1.9 M489.83,110.62V109.05 M489.83,109.05h1.9 M491.74,126.39V109.05 M491.74,126.39h1.9 M493.64,141.36V126.39 M493.64,141.36h1.9 M495.54,141.36V120.08 M495.54,120.08h1.9 M497.44,127.96V120.08 M497.44,127.96h1.9 M499.35,148.46V127.96 M499.35,148.46h1.9 M501.25,172.73V148.46 M501.25,172.73h1.9 M503.15,183.14V172.73 M503.15,183.14h1.9 M505.06,183.14V173.68 M505.06,173.68h1.9 M506.96,181.56V173.68 M506.96,181.56h1.9 M508.86,183.14V181.56 M508.86,183.14h1.9 M510.77,183.14V182.03 M510.77,182.03h1.9 M512.67,182.03h1.9 M514.57,182.03V177.46 M514.57,177.46h1.9 M516.47,182.03V177.46 M516.47,182.03h1.9 M518.38,191.02V182.03 M518.38,191.02h1.9 M520.28,191.02V180.77 M520.28,180.77h1.9 M522.18,180.77V165.32 M522.18,165.32h1.9 M524.09,175.73V165.32 M524.09,175.73h1.9 M525.99,175.73V173.68 M525.99,173.68h1.9 M527.89,173.68h1.9 M529.8,187.87V173.68 M529.8,187.87h1.9 M531.7,187.87V180.77 M531.7,180.77h1.9 M533.6,183.14V180.77 M533.6,183.14h1.9 M535.5,184.71V183.14 M535.5,184.71h1.9 M537.41,192.6V184.71 M537.41,192.6h1.9 M539.31,192.6V177.46 M539.31,177.46h1.9 M541.21,178.41V177.46 M541.21,178.41h1.9 M543.12,178.41V177.46 M543.12,177.46h1.9 M545.02,178.41V177.46 M545.02,178.41h1.9 M546.92,178.41V158.23 M546.92,158.23h1.9 M548.83,178.41V158.23 M548.83,178.41h1.9 M550.73,179.98V178.41 M550.73,179.98h1.9 M552.63,179.98V170.84 M552.63,170.84h1.9 M554.53,173.84V170.84 M554.53,173.84h1.9 M556.44,173.84V167.69 M556.44,167.69h1.9 M558.34,167.69V156.34 M558.34,156.34h1.9 M560.24,172.1V156.34 M560.24,172.1h1.9 M562.15,175.26V172.1 M562.15,175.26h1.9 M564.05,184.71V175.26 M564.05,184.71h1.9 M565.95,184.71V169.58 M565.95,169.58h1.9 M567.86,181.56V169.58 M567.86,181.56h1.9 M569.76,186.29V181.56 M569.76,186.29h1.9 M571.66,206.78V186.29 M571.66,206.78h1.9 M573.56,206.78V193.23 M573.56,193.23h1.9 M575.47,193.23V192.12 M575.47,192.12h1.9 M577.37,192.12V189.6 M577.37,189.6h1.9 M579.27,202.37V189.6 M579.27,202.37h1.9 M581.18,210.57V202.37 M581.18,210.57h1.9 M583.08,211.83V210.57 M583.08,211.83h1.9 M584.98,220.97V211.83 M584.98,220.97h1.9 M586.88,220.97V216.87 M586.88,216.87h1.9 M588.79,216.87h1.9 M590.69,216.87h1.9 M592.59,216.87h1.9 M594.5,217.5V216.87 M594.5,217.5h1.9 M596.4,222.55V217.5 M596.4,222.55h1.9 M598.3,224.91V222.55 M598.3,224.91h1.9 M600.21,224.91V224.12 M600.21,224.12h1.9 M602.11,224.12h1.9 M604.01,225.7V224.12 M605.91,225.7V221.13 M605.91,221.13h1.9 M607.82,221.13h1.9 M609.72,222.55V221.13 M609.72,222.55h1.9 M611.62,222.55h1.9 M613.53,222.55h1.9 M615.43,224.91V222.55 M615.43,224.91h1.9 M617.33,225.7V224.91 M619.24,225.7V224.6 M619.24,224.6h1.9 M621.14,224.6h1.9 M623.04,224.6h1.9 M624.95,224.6h1.9 M626.85,225.7V224.6 M647.78,225.7V224.12 M647.78,224.12h1.9 M649.68,224.12h1.9 M651.59,224.12h1.9 M653.49,225.7V224.12 M657.3,225.7V224.6 M657.3,224.6h1.9 M659.2,225.7V224.6" stroke-width="0.55" stroke-opacity="0.9" stroke-linecap="square"/>
</g>
<g fill="none" stroke-linecap="butt" stroke-linejoin="round">
<path d="M407.05,223.76 L408.38,223.36 L409.7,222.9 L411.03,222.36 L412.36,221.74 L413.68,221.01 L415.01,220.17 L416.33,219.2 L417.66,218.09 L418.99,216.83 L420.31,215.41 L421.64,213.79 L422.97,211.98 L424.29,209.96 L425.62,207.7 L426.94,205.21 L428.27,202.45 L429.6,199.43 L430.92,196.13 L432.25,192.54 L433.57,188.66 L434.9,184.49 L436.23,180.03 L437.55,175.27 L438.88,170.24 L440.21,164.94 L441.53,159.39 L442.86,153.62 L444.18,147.64 L445.51,141.5 L446.84,135.22 L448.16,128.85 L449.49,122.43 L450.81,116.01 L452.14,109.64 L453.47,103.38 L454.79,97.28 L456.12,91.39 L457.45,85.77 L458.77,80.48 L460.1,75.58 L461.42,71.1 L462.75,67.11 L464.08,63.63 L465.4,60.72 L466.73,58.41 L468.05,56.71 L469.38,55.64 L470.71,55.23 L472.03,55.47 L473.36,56.35 L474.69,57.87 L476.01,60.01 L477.34,62.73 L478.66,66.01 L479.99,69.81 L481.32,74.08 L482.64,78.76 L483.97,83.82 L485.29,89.19 L486.62,94.81 L487.95,100.63 L489.27,106.58 L490.6,112.6 L491.93,118.65 L493.25,124.66 L494.58,130.58 L495.9,136.36 L497.23,141.96 L498.56,147.34 L499.88,152.46 L501.21,157.3 L502.53,161.82 L503.86,166.01 L505.19,169.84 L506.51,173.32 L507.84,176.42 L509.17,179.16 L510.49,181.52 L511.82,183.53 L513.14,185.18 L514.47,186.49 L515.8,187.47 L517.12,188.15 L518.45,188.53 L519.77,188.64 L521.1,188.51 L522.43,188.15 L523.75,187.59 L525.08,186.86 L526.41,185.98 L527.73,184.98 L529.06,183.88 L530.38,182.7 L531.71,181.48 L533.04,180.23 L534.36,178.98 L535.69,177.75 L537.01,176.56 L538.34,175.42 L539.67,174.37 L540.99,173.41 L542.32,172.56 L543.65,171.83 L544.97,171.24 L546.3,170.79 L547.62,170.49 L548.95,170.35 L550.28,170.38 L551.6,170.56 L552.93,170.91 L554.25,171.42 L555.58,172.08 L556.91,172.9 L558.23,173.87 L559.56,174.97 L560.89,176.2 L562.21,177.56 L563.54,179.01 L564.86,180.57 L566.19,182.21 L567.52,183.91 L568.84,185.68 L570.17,187.49 L571.49,189.33 L572.82,191.19 L574.15,193.05 L575.47,194.91 L576.8,196.76 L578.13,198.58 L579.45,200.36 L580.78,202.1 L582.1,203.79 L583.43,205.42 L584.76,206.99 L586.08,208.49 L587.41,209.91 L588.73,211.27 L590.06,212.55 L591.39,213.75 L592.71,214.88 L594.04,215.93 L595.37,216.91 L596.69,217.81 L598.02,218.64 L599.34,219.41 L600.67,220.11 L602,220.74 L603.32,221.32 L604.65,221.84 L605.97,222.31 L607.3,222.74 L608.63,223.11 L609.95,223.45 L611.28,223.75 L612.61,224.01 L613.93,224.25 L615.26,224.45 L616.58,224.63 L617.91,224.79 L619.24,224.92" stroke="#ec6a36" stroke-width="1.1"/>
<path d="M407.05,223.76 L407.9,223.51 L408.75,223.24 L409.6,222.94 L410.45,222.61 L411.3,222.24 L412.15,221.84 L413,221.39 L413.85,220.9 L414.71,220.37 L415.56,219.78 L416.41,219.14 L417.26,218.45 L418.11,217.69 L418.96,216.86 L419.81,215.97 L420.66,215.01 L421.51,213.96 L422.36,212.84 L423.21,211.63 L424.06,210.33 L424.91,208.94 L425.76,207.45 L426.61,205.86 L427.46,204.16 L428.31,202.36 L429.16,200.45 L430.01,198.42 L430.86,196.28 L431.71,194.03 L432.56,191.65 L433.41,189.15 L434.26,186.53 L435.11,183.79 L435.97,180.93 L436.82,177.95 L437.67,174.86 L438.52,171.65 L439.37,168.32 L440.22,164.89 L441.07,161.36 L441.92,157.73 L442.77,154.02 L443.62,150.21 L444.47,146.34 L445.32,142.39 L446.17,138.39 L447.02,134.34 L447.87,130.26 L448.72,126.15 L449.57,122.03 L450.42,117.92 L451.27,113.81 L452.12,109.74 L452.97,105.71 L453.82,101.74 L454.67,97.83 L455.52,94.02 L456.37,90.31 L457.23,86.71 L458.08,83.25 L458.93,79.93 L459.78,76.77 L460.63,73.79 L461.48,70.99 L462.33,68.39 L463.18,66 L464.03,63.83 L464.88,61.9 L465.73,60.2 L466.58,58.76 L467.43,57.57 L468.28,56.64 L469.13,55.97 L469.98,55.57 L470.83,55.45 L471.68,55.59 L472.53,56.01 L473.38,56.69 L474.23,57.64 L475.08,58.85 L475.93,60.31 L476.78,62.03 L477.63,63.98 L478.49,66.16 L479.34,68.56 L480.19,71.18 L481.04,73.99 L481.89,76.99 L482.74,80.16 L483.59,83.48 L484.44,86.96 L485.29,90.56 L486.14,94.28 L486.99,98.1 L487.84,102.01 L488.69,105.99 L489.54,110.02 L490.39,114.1 L491.24,118.2 L492.09,122.32 L492.94,126.44 L493.79,130.55 L494.64,134.63 L495.49,138.67 L496.34,142.67 L497.19,146.61 L498.04,150.48 L498.9,154.28 L499.75,157.99 L500.6,161.61 L501.45,165.14 L502.3,168.56 L503.15,171.87 L504,175.08 L504.85,178.16 L505.7,181.14 L506.55,183.99 L507.4,186.72 L508.25,189.33 L509.1,191.82 L509.95,194.19 L510.8,196.44 L511.65,198.57 L512.5,200.59 L513.35,202.49 L514.2,204.29 L515.05,205.97 L515.9,207.55 L516.75,209.04 L517.6,210.42 L518.45,211.72 L519.3,212.92 L520.16,214.04 L521.01,215.08 L521.86,216.04 L522.71,216.92 L523.56,217.74 L524.41,218.5 L525.26,219.19 L526.11,219.83 L526.96,220.41 L527.81,220.94 L528.66,221.42 L529.51,221.87 L530.36,222.27 L531.21,222.63 L532.06,222.96 L532.91,223.26 L533.76,223.53 L534.61,223.77 L535.46,223.99 L536.31,224.19 L537.16,224.36 L538.01,224.52 L538.86,224.66 L539.71,224.79 L540.56,224.9 L541.42,225 L542.27,225.08 L543.12,225.16" stroke="#f3b62a" stroke-width="1.25" stroke-dasharray="3.6 2"/>
<path d="M480.32,224.92 L481.19,224.84 L482.05,224.74 L482.92,224.64 L483.79,224.52 L484.66,224.4 L485.53,224.26 L486.39,224.11 L487.26,223.95 L488.13,223.78 L489,223.59 L489.87,223.39 L490.74,223.16 L491.6,222.93 L492.47,222.67 L493.34,222.39 L494.21,222.1 L495.08,221.78 L495.95,221.44 L496.81,221.07 L497.68,220.68 L498.55,220.27 L499.42,219.83 L500.29,219.36 L501.15,218.87 L502.02,218.34 L502.89,217.79 L503.76,217.21 L504.63,216.59 L505.5,215.94 L506.36,215.26 L507.23,214.55 L508.1,213.81 L508.97,213.03 L509.84,212.22 L510.71,211.38 L511.57,210.51 L512.44,209.6 L513.31,208.66 L514.18,207.69 L515.05,206.7 L515.91,205.67 L516.78,204.61 L517.65,203.53 L518.52,202.43 L519.39,201.3 L520.26,200.15 L521.12,198.99 L521.99,197.81 L522.86,196.61 L523.73,195.41 L524.6,194.19 L525.47,192.97 L526.33,191.75 L527.2,190.53 L528.07,189.31 L528.94,188.11 L529.81,186.91 L530.68,185.73 L531.54,184.57 L532.41,183.43 L533.28,182.32 L534.15,181.24 L535.02,180.19 L535.88,179.18 L536.75,178.21 L537.62,177.28 L538.49,176.4 L539.36,175.57 L540.23,174.8 L541.09,174.08 L541.96,173.42 L542.83,172.83 L543.7,172.3 L544.57,171.83 L545.44,171.44 L546.3,171.11 L547.17,170.86 L548.04,170.67 L548.91,170.56 L549.78,170.53 L550.64,170.56 L551.51,170.67 L552.38,170.86 L553.25,171.11 L554.12,171.44 L554.99,171.83 L555.85,172.3 L556.72,172.83 L557.59,173.42 L558.46,174.08 L559.33,174.8 L560.2,175.57 L561.06,176.4 L561.93,177.28 L562.8,178.21 L563.67,179.18 L564.54,180.19 L565.4,181.24 L566.27,182.32 L567.14,183.43 L568.01,184.57 L568.88,185.73 L569.75,186.91 L570.61,188.11 L571.48,189.31 L572.35,190.53 L573.22,191.75 L574.09,192.97 L574.96,194.19 L575.82,195.41 L576.69,196.61 L577.56,197.81 L578.43,198.99 L579.3,200.15 L580.17,201.3 L581.03,202.43 L581.9,203.53 L582.77,204.61 L583.64,205.67 L584.51,206.7 L585.37,207.69 L586.24,208.66 L587.11,209.6 L587.98,210.51 L588.85,211.38 L589.72,212.22 L590.58,213.03 L591.45,213.81 L592.32,214.55 L593.19,215.26 L594.06,215.94 L594.93,216.59 L595.79,217.21 L596.66,217.79 L597.53,218.34 L598.4,218.87 L599.27,219.36 L600.13,219.83 L601,220.27 L601.87,220.68 L602.74,221.07 L603.61,221.44 L604.48,221.78 L605.34,222.1 L606.21,222.39 L607.08,222.67 L607.95,222.93 L608.82,223.16 L609.69,223.39 L610.55,223.59 L611.42,223.78 L612.29,223.95 L613.16,224.11 L614.03,224.26 L614.89,224.4 L615.76,224.52 L616.63,224.64 L617.5,224.74 L618.37,224.84 L619.24,224.92" stroke="#b04fc0" stroke-width="1.25" stroke-dasharray="3.6 2"/>
</g>
<g stroke="#484a50" fill="none">
<rect x="393.2" y="5" width="292.8" height="220.7" stroke-width="1.9"/>
<path d="M406.1,225.7 v-3.05 M406.1,5 v3.05 M425.13,225.7 v-3.05 M425.13,5 v3.05 M444.16,225.7 v-3.05 M444.16,5 v3.05 M463.19,225.7 v-3.05 M463.19,5 v3.05 M482.22,225.7 v-3.05 M482.22,5 v3.05 M501.25,225.7 v-3.05 M501.25,5 v3.05 M520.28,225.7 v-3.05 M520.28,5 v3.05 M539.31,225.7 v-3.05 M539.31,5 v3.05 M558.34,225.7 v-3.05 M558.34,5 v3.05 M577.37,225.7 v-3.05 M577.37,5 v3.05 M596.4,225.7 v-3.05 M596.4,5 v3.05 M615.43,225.7 v-3.05 M615.43,5 v3.05 M634.46,225.7 v-3.05 M634.46,5 v3.05 M653.49,225.7 v-3.05 M653.49,5 v3.05 M672.52,225.7 v-3.05 M672.52,5 v3.05 M393.2,225.7 h2.7 M686,225.7 h-2.7 M393.2,217.82 h1.85 M686,217.82 h-1.85 M393.2,209.94 h1.85 M686,209.94 h-1.85 M393.2,202.05 h1.85 M686,202.05 h-1.85 M393.2,194.17 h2.7 M686,194.17 h-2.7 M393.2,186.29 h1.85 M686,186.29 h-1.85 M393.2,178.41 h1.85 M686,178.41 h-1.85 M393.2,170.53 h1.85 M686,170.53 h-1.85 M393.2,162.64 h2.7 M686,162.64 h-2.7 M393.2,154.76 h1.85 M686,154.76 h-1.85 M393.2,146.88 h1.85 M686,146.88 h-1.85 M393.2,139 h1.85 M686,139 h-1.85 M393.2,131.12 h2.7 M686,131.12 h-2.7 M393.2,123.23 h1.85 M686,123.23 h-1.85 M393.2,115.35 h1.85 M686,115.35 h-1.85 M393.2,107.47 h1.85 M686,107.47 h-1.85 M393.2,99.59 h2.7 M686,99.59 h-2.7 M393.2,91.71 h1.85 M686,91.71 h-1.85 M393.2,83.82 h1.85 M686,83.82 h-1.85 M393.2,75.94 h1.85 M686,75.94 h-1.85 M393.2,68.06 h2.7 M686,68.06 h-2.7 M393.2,60.18 h1.85 M686,60.18 h-1.85 M393.2,52.3 h1.85 M686,52.3 h-1.85 M393.2,44.41 h1.85 M686,44.41 h-1.85 M393.2,36.53 h2.7 M686,36.53 h-2.7 M393.2,28.65 h1.85 M686,28.65 h-1.85 M393.2,20.77 h1.85 M686,20.77 h-1.85 M393.2,12.89 h1.85 M686,12.89 h-1.85 M393.2,5 h2.7 M686,5 h-2.7" stroke-width="1.3"/>
</g>
<g fill="#3a3a44" stroke="#3a3a44" stroke-width="0.2" font-size="11.8">
<text x="406.1" y="239" text-anchor="middle">0</text>
<text x="425.13" y="239" text-anchor="middle">1</text>
<text x="444.16" y="239" text-anchor="middle">2</text>
<text x="463.19" y="239" text-anchor="middle">3</text>
<text x="482.22" y="239" text-anchor="middle">4</text>
<text x="501.25" y="239" text-anchor="middle">5</text>
<text x="520.28" y="239" text-anchor="middle">6</text>
<text x="539.31" y="239" text-anchor="middle">7</text>
<text x="558.34" y="239" text-anchor="middle">8</text>
<text x="577.37" y="239" text-anchor="middle">9</text>
<text x="596.4" y="239" text-anchor="middle">10</text>
<text x="615.43" y="239" text-anchor="middle">11</text>
<text x="634.46" y="239" text-anchor="middle">12</text>
<text x="653.49" y="239" text-anchor="middle">13</text>
<text x="672.52" y="239" text-anchor="middle">14</text>
<text x="387.8" y="228.7" text-anchor="end">0</text>
<text x="387.8" y="197.17" text-anchor="end">20</text>
<text x="387.8" y="165.64" text-anchor="end">40</text>
<text x="387.8" y="134.12" text-anchor="end">60</text>
<text x="387.8" y="102.59" text-anchor="end">80</text>
<text x="387.8" y="71.06" text-anchor="end">100</text>
<text x="387.8" y="39.53" text-anchor="end">120</text>
<text x="387.8" y="8" text-anchor="end">140</text>
</g>
<g fill="#3a3a44" stroke="#3a3a44" stroke-width="0.2" font-size="13">
<text x="539.6" y="256.7" text-anchor="middle" textLength="104" lengthAdjust="spacingAndGlyphs">Track Diameter (um)</text>
<text transform="translate(362,115) rotate(-90)" text-anchor="middle" textLength="71.5" lengthAdjust="spacingAndGlyphs">Track Number</text>
<text x="518.6" y="279.7" text-anchor="middle">(b)</text>
<text x="633.7" y="187.5" font-size="11.8">3 h</text>
</g>
</g>
</svg>
</body></html>
